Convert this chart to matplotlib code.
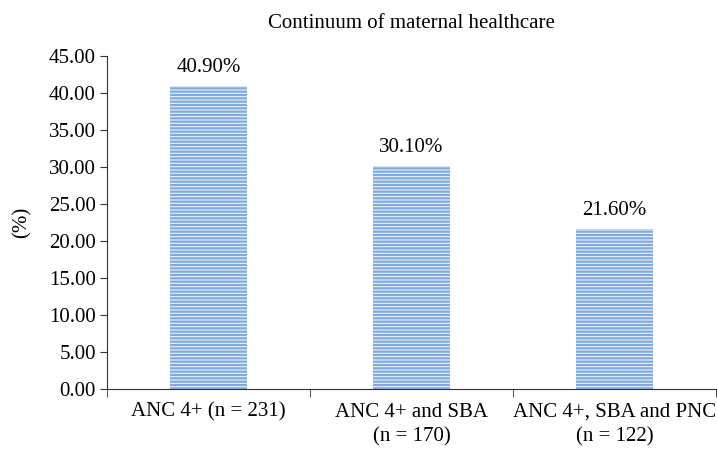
import matplotlib.pyplot as plt
import numpy as np

plt.rcParams['font.family'] = ['Liberation Serif', 'DejaVu Serif']
plt.rcParams['hatch.linewidth'] = 1.6

# данные
categories = ['ANC 4+ (n = 231)', 'ANC 4+ and SBA\n(n = 170)', 'ANC 4+, SBA and PNC\n(n = 122)']
values = [40.90, 30.10, 21.60]
yticks = np.arange(0, 50, 5)

fs = 15

fig = plt.figure(figsize=(7.17, 4.49), dpi=100)
ax = fig.add_axes([0.149, 0.134, 0.850, 0.741])

x = np.arange(len(categories))
ax.bar(x, values, width=0.38, color='#eef4fb', edgecolor='#7faae0',
       hatch='-----', linewidth=0)

for xi, v in zip(x, values):
    ax.text(xi, v + 1.3, f'{v:.2f}%', ha='center', va='bottom', fontsize=fs)

ax.set_xlim(-0.5, len(categories) - 0.5)
ax.set_ylim(0, 45)
ax.set_yticks(yticks)
ax.set_yticklabels([f'{t:.2f}' for t in yticks], fontsize=fs)
ax.set_xticks(x)
ax.set_xticklabels(categories, fontsize=fs, linespacing=1.4)
ax.tick_params(axis='x', length=0, pad=10)
ax.set_xticks(np.arange(-0.5, len(categories)), minor=True)
ax.tick_params(axis='x', which='minor', length=6, color='#333333')
ax.tick_params(axis='y', length=5, color='#333333', pad=3)
ax.set_ylabel('(%)', fontsize=fs, labelpad=12)
ax.set_title('Continuum of maternal healthcare', fontsize=fs, pad=20)

for s in ['top', 'right']:
    ax.spines[s].set_visible(False)
for s in ['left', 'bottom']:
    ax.spines[s].set_color('#333333')

fig.savefig('out.png', dpi=100)
